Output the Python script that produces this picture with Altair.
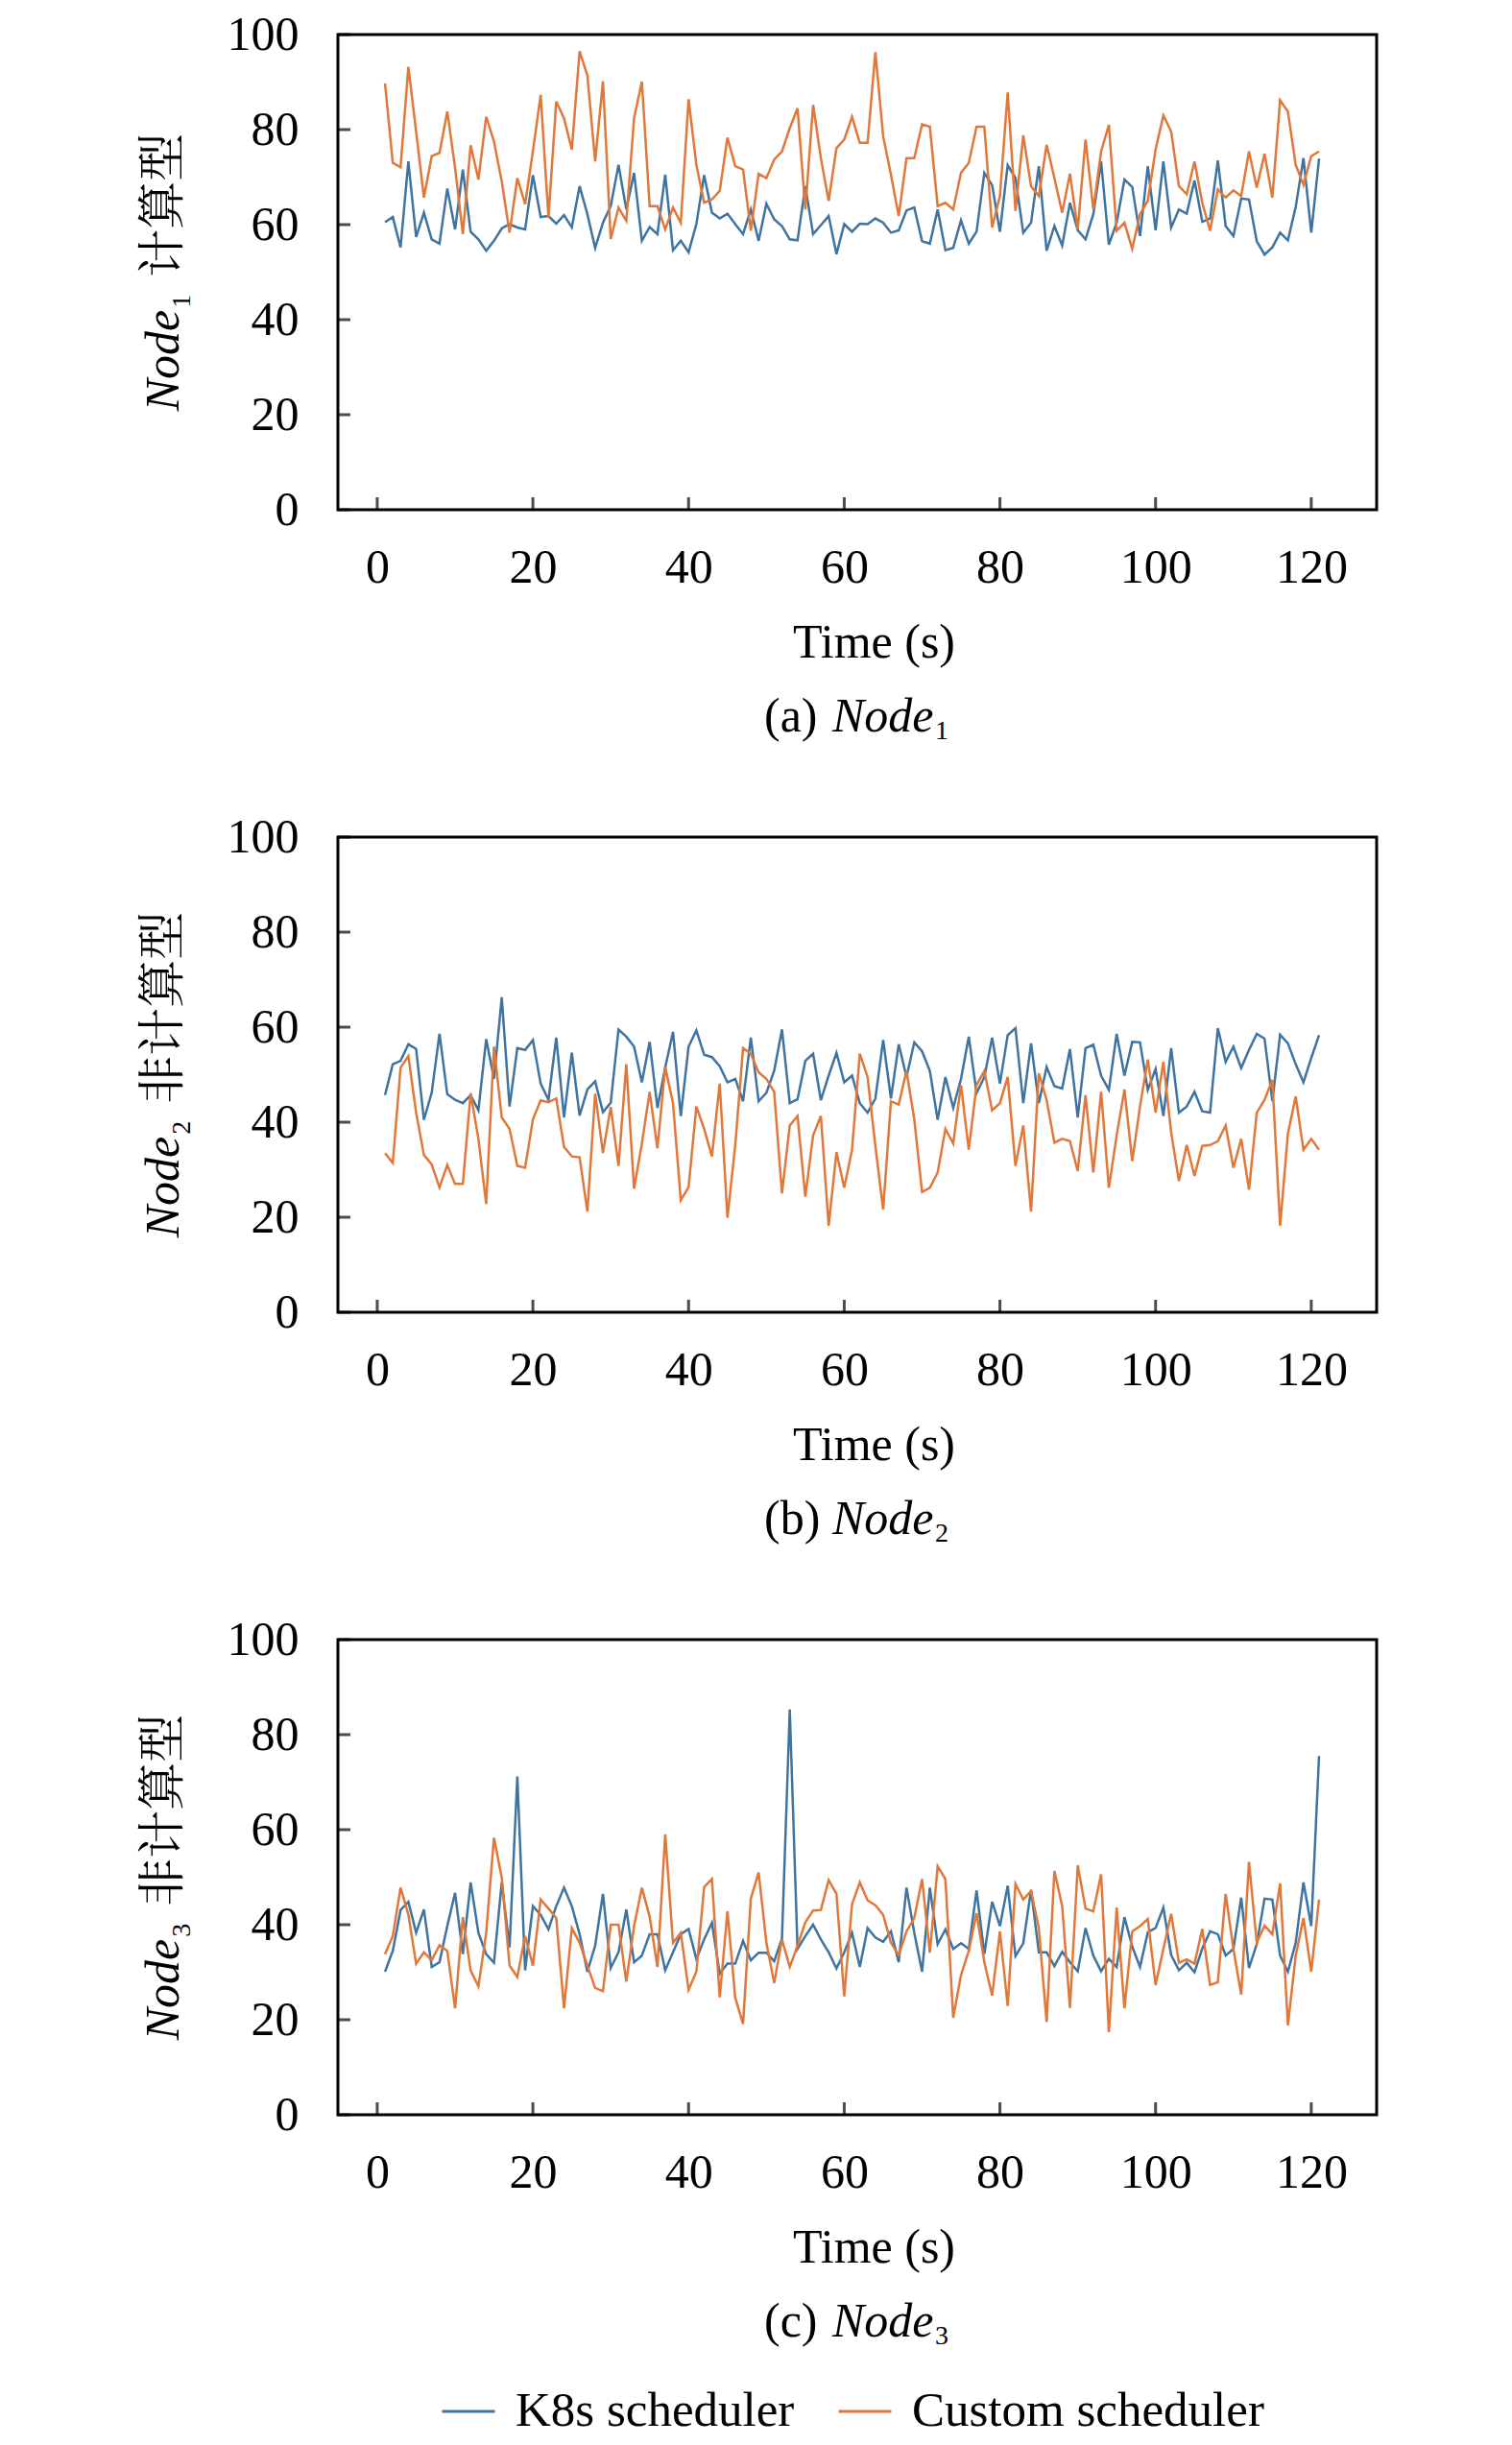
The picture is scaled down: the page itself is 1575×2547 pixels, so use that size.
import altair as alt
import pandas as pd

# ---- data (time index 1..121) ----
T = list(range(1, 122))

N1_K8S = [
    60.5, 61.6, 55.2, 73.3, 57.4, 62.5, 56.9, 56.0, 67.6, 59.0,
    71.6, 58.5, 56.9, 54.5, 56.6, 59.2, 60.1, 59.4, 59.0, 70.4,
    61.6, 61.8, 60.2, 62.0, 59.4, 68.1, 62.2, 55.1, 60.4, 63.9,
    72.6, 63.2, 70.9, 56.6, 59.5, 58.0, 70.5, 54.6, 56.6, 54.2,
    60.1, 70.4, 62.5, 61.3, 62.3, 60.1, 58.0, 63.2, 56.6, 64.4,
    61.1, 59.7, 56.9, 56.7, 68.1, 58.0, 59.9, 61.8, 53.8, 60.1,
    58.5, 60.2, 60.1, 61.3, 60.4, 58.3, 58.8, 63.0, 63.6, 56.5,
    56.0, 63.2, 54.6, 55.1, 60.9, 56.0, 58.5, 70.9, 68.3, 58.5,
    72.5, 69.8, 58.3, 60.4, 72.3, 54.5, 59.7, 55.6, 64.6, 58.8,
    56.9, 62.2, 73.3, 55.8, 60.4, 69.5, 67.9, 57.6, 72.3, 58.8,
    73.3, 59.4, 63.2, 62.3, 69.3, 60.6, 61.3, 73.5, 59.7, 57.6,
    65.5, 65.3, 56.5, 53.7, 55.2, 58.3, 56.7, 63.7, 74.0, 58.3, 73.9,
]
N1_CUSTOM = [
    89.7, 73.0, 72.1, 93.2, 79.6, 65.7, 74.4, 75.1, 83.8, 72.0,
    58.0, 76.7, 69.5, 82.7, 77.5, 69.1, 58.3, 69.8, 64.3, 75.4,
    87.3, 61.5, 85.9, 82.4, 75.8, 96.5, 91.4, 73.3, 90.2, 57.0,
    63.6, 60.8, 82.4, 90.1, 63.9, 63.9, 59.0, 63.6, 60.4, 86.4,
    72.6, 64.6, 65.3, 67.1, 78.3, 72.3, 71.6, 58.7, 70.7, 69.8,
    73.7, 75.4, 80.3, 84.5, 63.2, 85.2, 74.0, 65.0, 76.1, 77.9,
    82.7, 77.2, 77.2, 96.3, 78.6, 70.5, 61.8, 74.0, 74.0, 81.1,
    80.6, 63.9, 64.6, 63.2, 70.9, 73.0, 80.6, 80.6, 59.4, 66.0,
    87.8, 62.9, 78.8, 68.1, 66.0, 76.8, 69.8, 62.5, 70.7, 59.0,
    77.9, 63.2, 75.4, 81.0, 58.7, 60.4, 54.9, 62.2, 65.0, 75.8,
    83.0, 79.6, 68.1, 66.4, 73.3, 64.6, 58.7, 67.4, 65.7, 67.2,
    66.0, 75.4, 67.8, 74.9, 65.7, 86.2, 83.8, 72.6, 68.4, 74.4, 75.4,
]
N2_K8S = [
    45.7, 52.2, 52.9, 56.4, 55.4, 40.5, 46.2, 58.6, 45.9, 44.7,
    44.0, 45.7, 42.5, 57.5, 49.1, 66.3, 43.3, 55.6, 55.2, 57.3,
    48.1, 44.7, 57.8, 41.0, 54.6, 41.4, 46.9, 48.6, 42.1, 44.1,
    59.5, 58.0, 55.9, 48.4, 56.9, 43.0, 51.5, 59.0, 41.3, 55.9,
    59.3, 54.2, 53.7, 51.8, 48.4, 49.1, 44.4, 57.8, 44.4, 46.2,
    50.8, 59.5, 44.0, 44.8, 52.9, 54.4, 44.6, 49.8, 54.6, 48.4,
    49.8, 44.0, 42.0, 45.0, 57.3, 45.0, 56.4, 49.5, 56.8, 54.9,
    50.8, 40.5, 49.5, 43.0, 49.1, 58.0, 46.1, 49.5, 57.8, 48.1,
    58.3, 59.8, 44.0, 56.6, 44.0, 51.6, 47.6, 47.1, 55.4, 41.0,
    55.6, 56.3, 49.8, 46.8, 58.6, 49.8, 56.9, 56.8, 46.8, 51.2,
    41.3, 55.6, 42.0, 43.3, 46.4, 42.3, 42.0, 59.8, 52.7, 55.9,
    51.4, 55.2, 58.6, 57.6, 44.4, 58.4, 56.6, 52.2, 48.4, 53.5, 58.3,
]
N2_CUSTOM = [
    33.5, 31.4, 51.5, 53.9, 42.0, 33.1, 31.1, 26.3, 31.0, 27.0,
    27.0, 46.1, 36.5, 22.8, 55.9, 41.0, 38.6, 30.8, 30.4, 40.6,
    44.6, 44.2, 45.0, 34.8, 32.8, 32.6, 21.2, 46.0, 33.5, 43.2,
    30.8, 52.2, 26.0, 35.5, 46.4, 34.5, 51.6, 44.0, 23.6, 26.3,
    43.3, 38.6, 32.8, 48.1, 19.9, 35.2, 55.6, 54.4, 50.5, 49.1,
    46.4, 25.0, 39.3, 41.3, 24.3, 37.2, 41.3, 18.2, 33.7, 26.2,
    34.2, 54.4, 49.5, 35.0, 21.6, 44.4, 43.7, 50.8, 40.6, 25.3,
    26.2, 29.4, 38.6, 35.5, 47.8, 34.2, 47.8, 50.8, 42.5, 44.0,
    49.5, 30.8, 39.3, 21.2, 50.3, 44.7, 35.7, 36.5, 36.0, 29.7,
    45.7, 29.4, 46.4, 26.2, 37.2, 46.9, 31.8, 43.3, 53.2, 42.0,
    52.7, 37.9, 27.6, 35.2, 28.7, 35.0, 35.2, 36.0, 39.3, 30.4,
    36.5, 25.8, 42.0, 44.7, 48.9, 18.2, 37.6, 45.4, 34.2, 36.5, 34.2,
]
N3_K8S = [
    30.1, 34.5, 43.1, 44.8, 38.3, 43.2, 31.1, 32.1, 39.7, 46.7,
    33.8, 48.9, 38.3, 33.8, 32.0, 48.9, 35.2, 71.2, 30.4, 43.9,
    42.1, 39.0, 43.9, 47.8, 43.9, 38.0, 30.1, 35.6, 46.5, 30.9,
    34.2, 43.2, 32.1, 33.5, 38.0, 38.0, 30.4, 34.2, 38.0, 39.1,
    32.8, 36.9, 40.4, 29.7, 31.8, 31.8, 36.6, 32.5, 34.1, 34.1,
    32.3, 37.1, 85.3, 34.9, 37.6, 40.0, 36.9, 34.2, 30.8, 34.2,
    38.3, 31.1, 39.3, 37.3, 36.4, 38.6, 32.1, 47.8, 38.3, 30.1,
    47.8, 35.9, 39.0, 34.9, 36.1, 34.9, 47.2, 33.8, 44.8, 39.7,
    48.2, 33.4, 36.1, 47.3, 34.2, 34.2, 31.3, 34.3, 32.1, 30.2,
    39.3, 33.5, 30.2, 32.8, 31.1, 41.6, 35.4, 31.1, 38.4, 39.3,
    43.6, 33.6, 30.4, 32.0, 30.0, 35.0, 38.6, 38.0, 33.5, 34.9,
    45.7, 30.9, 35.9, 45.5, 45.3, 33.5, 30.1, 36.2, 48.9, 39.7, 75.5,
]
N3_CUSTOM = [
    33.8, 37.6, 47.8, 42.1, 31.8, 34.2, 32.5, 35.7, 34.5, 22.4,
    41.6, 30.4, 27.0, 38.3, 58.3, 49.9, 31.4, 29.0, 37.6, 31.4,
    45.3, 43.4, 41.4, 22.4, 39.3, 36.2, 31.4, 26.7, 26.0, 40.0,
    40.0, 28.0, 39.7, 47.8, 41.7, 31.1, 59.0, 36.2, 38.3, 26.3,
    30.1, 47.9, 49.6, 24.7, 42.8, 24.6, 19.1, 45.5, 51.0, 36.2,
    27.7, 36.9, 31.1, 35.6, 40.5, 43.0, 43.1, 49.4, 46.5, 24.9,
    44.3, 48.9, 45.1, 44.1, 42.1, 36.2, 33.6, 38.6, 41.4, 49.6,
    34.1, 52.3, 49.6, 20.4, 29.4, 34.5, 42.4, 32.1, 25.1, 38.6,
    22.9, 48.6, 45.3, 47.1, 39.3, 19.5, 51.3, 43.9, 22.5, 52.5,
    43.4, 42.8, 50.6, 17.4, 43.6, 22.4, 38.6, 39.7, 41.2, 27.3,
    34.9, 42.3, 32.0, 32.7, 31.8, 39.1, 27.3, 27.9, 46.5, 34.9,
    25.3, 53.2, 36.2, 39.8, 38.0, 48.7, 18.8, 33.5, 41.4, 30.1, 45.3,
]

SERIES = ["K8s scheduler", "Custom scheduler"]
COLORS = ["#3f73a0", "#e0783a"]
X_TICKS = [0, 20, 40, 60, 80, 100, 120]
Y_TICKS = [0, 20, 40, 60, 80, 100]

PANELS = [
    ("(a) ", "1", "计算型", N1_K8S, N1_CUSTOM),
    ("(b) ", "2", "非计算型", N2_K8S, N2_CUSTOM),
    ("(c) ", "3", "非计算型", N3_K8S, N3_CUSTOM),
]

W, H = 1082, 495
SERIF = "Liberation Serif, Times New Roman, serif"
CJK = "Noto Serif CJK SC, Noto Sans CJK SC"
FS = 50


def _label(text, x, y, size=FS, font=SERIF, style="normal", angle=0):
    return alt.Chart(pd.DataFrame({"s": [text]})).mark_text(
        text=text, font=font, fontSize=size, fontStyle=style, color="black",
        align="left", baseline="alphabetic", angle=angle,
    ).encode(x=alt.value(x), y=alt.value(y))


def _panel(tag, sub, cjk, k8s, custom, first):
    df = pd.DataFrame({
        "t": T * 2,
        "v": k8s + custom,
        "series": [SERIES[0]] * len(T) + [SERIES[1]] * len(T),
    })
    xs = alt.Scale(domain=[-5.05, 128.4], nice=False, zero=False)
    ys = alt.Scale(domain=[0, 100], nice=False)

    lines = alt.Chart(df).mark_line(strokeWidth=2.5).encode(
        x=alt.X("t:Q", scale=xs, axis=alt.Axis(
            values=X_TICKS, title="Time (s)", labelPadding=35, labelFlush=False,
            titleX=558, titleY=153, titleBaseline="alphabetic", titleAlign="center",
        )),
        y=alt.Y("v:Q", scale=ys, axis=alt.Axis(values=Y_TICKS, title=None, labelPadding=41)),
        color=alt.Color("series:N", sort=SERIES,
                        scale=alt.Scale(domain=SERIES, range=COLORS),
                        legend=alt.Legend(title=None) if first else None),
        order=alt.Order("t:Q"),
    )
    xticks = alt.Chart(pd.DataFrame({"t": X_TICKS})).mark_tick(
        orient="vertical", size=13, thickness=3, color="black"
    ).encode(x=alt.X("t:Q", scale=xs), y=alt.value(H - 6.5))
    yticks = alt.Chart(pd.DataFrame({"v": Y_TICKS})).mark_tick(
        orient="horizontal", size=13, thickness=3, color="black"
    ).encode(y=alt.Y("v:Q", scale=ys), x=alt.value(6.5))

    # rotated y title: italic Node + subscript + Chinese
    L = 139.5 + 50 * len(cjk)
    node_y = H / 2 + L / 2
    sub_y = node_y - 107.5
    cjk_y = sub_y - 32
    ytitle = [
        _label("Node", -166, node_y, style="italic", angle=270),
        _label(sub, -154, sub_y, size=28, angle=270),
        _label(cjk, -166, cjk_y, font=CJK, angle=270),
    ]
    caption = [
        _label(tag, 444, H + 231),
        _label("Node", 515, H + 231, style="italic"),
        _label(sub, 622, H + 239, size=28),
    ]
    return alt.layer(lines, xticks, yticks, *ytitle, *caption).properties(width=W, height=H)


charts = [_panel(*p, first=(i == 0)) for i, p in enumerate(PANELS)]

chart = alt.vconcat(*charts, spacing=67).properties(
    padding={"left": 136, "top": 1, "right": 20, "bottom": 4}
).configure_view(
    stroke="black", strokeWidth=3
).configure_axis(
    labelFont=SERIF, labelFontSize=FS, labelColor="black",
    titleFont=SERIF, titleFontSize=FS, titleFontWeight="normal", titleColor="black",
    domain=False, ticks=False, grid=False,
).configure_legend(
    orient="none", legendX=107, legendY=2447, direction="horizontal",
    symbolType="stroke", symbolSize=3025, symbolStrokeWidth=3,
    labelFont=SERIF, labelFontSize=51, labelColor="black", labelLimit=1000,
    labelOffset=20, columnPadding=39, padding=0,
)

chart.save("out.html", embed_options={"renderer": "svg", "actions": False})
